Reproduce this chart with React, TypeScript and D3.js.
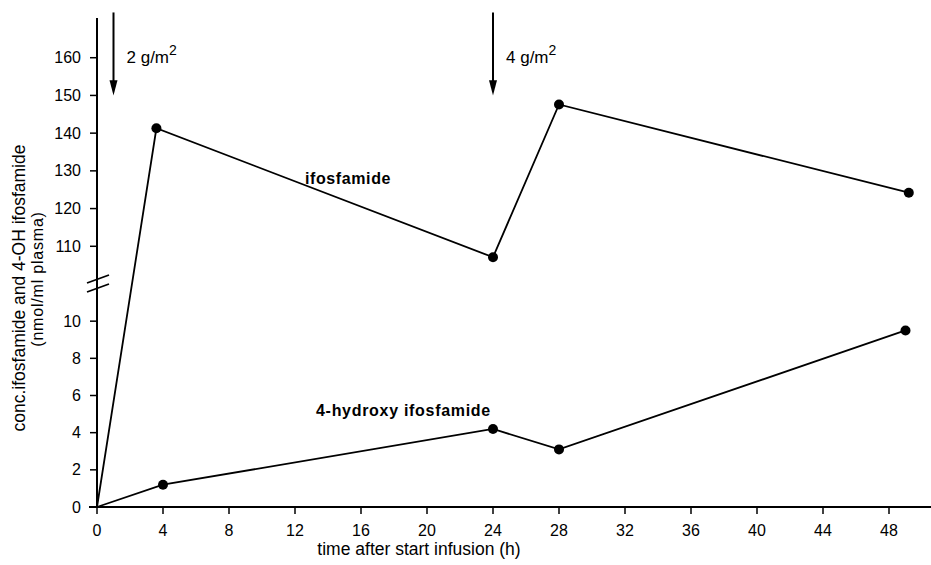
import * as d3 from "d3";

// time (h) and concentration (nmol/ml plasma)
const ifoTime = [0, 3.6, 24, 28, 49.2];
const ifoConc = [0, 141.3, 107.1, 147.6, 124.2];
const hydroxyTime = [0, 4, 24, 28, 49];
const hydroxyConc = [0, 1.2, 4.2, 3.1, 9.5];

const xTicks = [0, 4, 8, 12, 16, 20, 24, 28, 32, 36, 40, 44, 48];
const yTicksLow = [0, 2, 4, 6, 8, 10];
const yTicksHigh = [110, 120, 130, 140, 150, 160];

const doseTimes = [1, 24];
const doseLabels = ["2", "4"];

const W = 931;
const H = 565;
const font = "'Liberation Sans', Arial, Helvetica, sans-serif";

const x = d3.scaleLinear().domain([0, 48]).range([97, 889]);
const yLow = d3.scaleLinear().domain([0, 12]).range([507, 284]);
const yHigh = d3.scaleLinear().domain([100, 170]).range([284, 20]);
const y = (v: number) => (v <= 12 ? yLow(v) : yHigh(v));

const line = d3
  .line<[number, number]>()
  .x(d => x(d[0]))
  .y(d => y(d[1]));

export default function App() {
  const ifo: [number, number][] = ifoTime.map((t, i) => [t, ifoConc[i]]);
  const hyd: [number, number][] = hydroxyTime.map((t, i) => [t, hydroxyConc[i]]);
  const breakY = yLow(12);
  const x0 = x(0);

  return (
    <svg
      width={W}
      height={H}
      style={{ position: "absolute", left: 0, top: 0, background: "#fff" }}
      fontFamily={font}
    >
      {/* axes */}
      <line x1={x0} x2={x0} y1={18} y2={yLow(0)} stroke="#000" strokeWidth={2} />
      <line x1={x0 - 8} x2={W} y1={yLow(0)} y2={yLow(0)} stroke="#000" strokeWidth={2} />

      {/* axis break */}
      <line x1={x0 - 10} y1={breakY - 1} x2={x0 + 12} y2={breakY - 9} stroke="#000" strokeWidth={1.8} />
      <line x1={x0 - 10} y1={breakY + 8} x2={x0 + 12} y2={breakY} stroke="#000" strokeWidth={1.8} />

      {xTicks.map(t => (
        <g key={"x" + t}>
          <line x1={x(t)} x2={x(t)} y1={yLow(0) + 1} y2={yLow(0) + 7} stroke="#000" strokeWidth={1.5} />
          <text x={x(t)} y={536} textAnchor="middle" fontSize={16}>
            {t}
          </text>
        </g>
      ))}

      {yTicksLow.map(v => (
        <g key={"yl" + v}>
          <line x1={x0 - 7} x2={x0} y1={yLow(v)} y2={yLow(v)} stroke="#000" strokeWidth={1.5} />
          <text x={81} y={yLow(v) + 5.5} textAnchor="end" fontSize={16}>
            {v}
          </text>
        </g>
      ))}
      {yTicksHigh.map(v => (
        <g key={"yh" + v}>
          <line x1={x0 - 7} x2={x0} y1={yHigh(v)} y2={yHigh(v)} stroke="#000" strokeWidth={1.5} />
          <text x={81} y={yHigh(v) + 5.5} textAnchor="end" fontSize={16}>
            {v}
          </text>
        </g>
      ))}

      {/* axis titles */}
      <text x={419} y={555} textAnchor="middle" fontSize={17.5}>
        time after start infusion (h)
      </text>
      <text transform="translate(25,288) rotate(-90)" textAnchor="middle" fontSize={17.5}>
        conc.ifosfamide and 4-OH ifosfamide
      </text>
      <text transform="translate(43,279) rotate(-90)" textAnchor="middle" fontSize={16} letterSpacing={0.8}>
        (nmol/ml plasma)
      </text>

      {/* dose arrows */}
      {doseTimes.map((t, i) => (
        <g key={"d" + t}>
          <line x1={x(t)} x2={x(t)} y1={yHigh(172)} y2={yHigh(153)} stroke="#000" strokeWidth={2} />
          <path
            d={`M${x(t) - 4},${yHigh(154)} L${x(t) + 4},${yHigh(154)} L${x(t)},${yHigh(150)} Z`}
            fill="#000"
          />
          <text x={x(t) + 13} y={yHigh(158.5)} fontSize={17}>
            {doseLabels[i]} g/m
            <tspan dy={-8} fontSize={14}>
              2
            </tspan>
          </text>
        </g>
      ))}

      {/* series */}
      <path d={line(ifo) ?? ""} fill="none" stroke="#000" strokeWidth={1.8} />
      <path d={line(hyd) ?? ""} fill="none" stroke="#000" strokeWidth={1.8} />
      {ifo.filter(d => d[0] > 0).map(d => (
        <circle key={"i" + d[0]} cx={x(d[0])} cy={y(d[1])} r={5} fill="#000" />
      ))}
      {hyd.filter(d => d[0] > 0).map(d => (
        <circle key={"h" + d[0]} cx={x(d[0])} cy={y(d[1])} r={5} fill="#000" />
      ))}

      {/* series labels */}
      <text x={305} y={yHigh(126.5)} fontSize={16} fontWeight="bold" letterSpacing={0.6}>
        ifosfamide
      </text>
      <text x={316} y={yLow(4.9)} fontSize={16} fontWeight="bold" letterSpacing={0.7}>
        4-hydroxy ifosfamide
      </text>
    </svg>
  );
}
